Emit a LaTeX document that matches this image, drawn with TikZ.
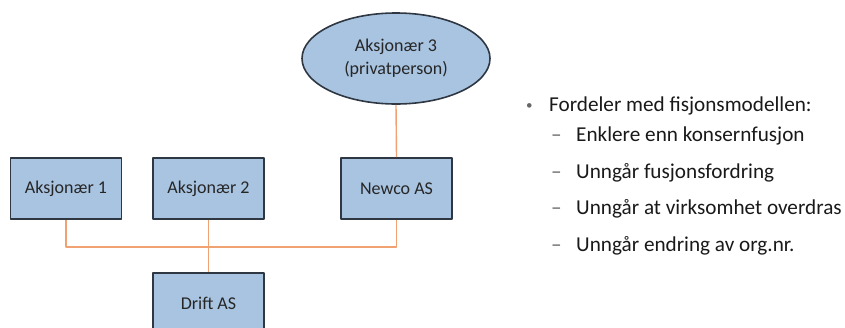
\documentclass[tikz,border=0pt]{standalone}
\usepackage{fontspec}
\setmainfont{Carlito}
\usetikzlibrary{shapes.geometric}
\definecolor{boxfill}{HTML}{A9C4E1}
\definecolor{boxline}{HTML}{2E3742}
\definecolor{linkcol}{HTML}{F0A272}
\tikzset{
  firm/.style={draw=boxline,line width=1.6pt,fill=boxfill,minimum width=111pt,minimum height=61pt,
    inner sep=0pt,font=\fontsize{18}{22}\selectfont,text=black!85},
  owner/.style={ellipse,draw=boxline,line width=1.6pt,fill=boxfill,minimum width=188pt,minimum height=91pt,
    inner sep=0pt,align=center,font=\fontsize{18}{23}\selectfont,text=black!85},
  link/.style={draw=linkcol,line width=1.4pt},
  listtxt/.style={anchor=base west,inner sep=0pt,font=\fontsize{21.2}{25}\selectfont,text=black!90},
  listmark/.style={anchor=base west,inner sep=0pt,font=\fontsize{21.2}{25}\selectfont,text=black!60}
}
\begin{document}
\begin{tikzpicture}[x=1pt,y=-1pt,line join=round]
  \useasboundingbox (0,0) rectangle (845,327);
  \clip (0,0) rectangle (845,327);
  \node[firm] (a1) at (66,188.5) {Aksjonær 1};
  \node[firm] (a2) at (208.5,188.5) {Aksjonær 2};
  \node[firm] (newco) at (396.5,188.5) {Newco AS};
  \node[owner] (a3) at (396,58.5) {Aksjonær 3\\(privatperson)};
  \node[firm] (drift) at (208.5,303.5) {Drift AS};
  \coordinate (j) at (208.5,247);
  \draw[link] (a1.south) |- (j) -| (newco.south);
  \draw[link] (a2.south) -- (drift.north);
  \draw[link] (a3.south) -- (newco.north);
  % fordeler
  \node[listmark,font=\fontsize{13}{15}\selectfont] (b0) at (526,109) {•};
  \node[listtxt] (t0) at (549,111) {Fordeler med fisjonsmodellen:};
  \node[listmark] (d1) at (551,141) {–};
  \node[listtxt] (t1) at (576,141) {Enklere enn konsernfusjon};
  \node[listmark] (d2) at (551,178) {–};
  \node[listtxt] (t2) at (576,178) {Unngår fusjonsfordring};
  \node[listmark] (d3) at (551,214) {–};
  \node[listtxt] (t3) at (576,214) {Unngår at virksomhet overdras};
  \node[listmark] (d4) at (551,251) {–};
  \node[listtxt] (t4) at (576,251) {Unngår endring av org.nr.};
\end{tikzpicture}
\end{document}
